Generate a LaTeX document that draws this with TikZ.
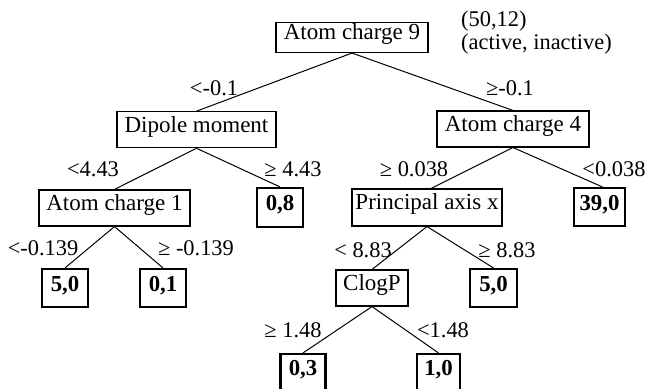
\documentclass[tikz,border=0pt]{standalone}
\usepackage{fontspec}
\setmainfont{Liberation Serif}
\begin{document}
\begin{tikzpicture}[x=1pt,y=-1pt,
  every node/.style={font=\fontsize{22.4}{26}\selectfont, inner sep=0pt},
  var/.style={draw, line width=1.1pt, font=\fontsize{23}{26}\selectfont, text height=0.68em, text depth=0.2em},
  leaf/.style={draw, line width=2.1pt, font=\fontsize{22.8}{26}\selectfont\bfseries, text height=0.68em, text depth=0.05em},
  lbl/.style={anchor=base},
  edge/.style={line width=1pt}]
\useasboundingbox (0,0) rectangle (647,388);
% decision nodes
\node[var, minimum width=152pt, minimum height=30pt] (root) at (352,37.5) {Atom charge 9};
\node[var, minimum width=159pt, minimum height=36pt] (dip) at (196.5,129.7) {Dipole moment};
\node[var, minimum width=151pt, minimum height=36pt] (ac1) at (114.5,208) {Atom charge 1};
\node[var, minimum width=152pt, minimum height=36pt] (ac4) at (513,129) {Atom charge 4};
\node[var, minimum width=150pt, minimum height=37pt] (pax) at (427,207.5) {Principal axis x};
\node[var, minimum width=72pt, minimum height=36pt] (clogp) at (372,288) {ClogP};
% leaves
\node[leaf, minimum width=46pt, minimum height=39pt] (l08) at (280,207.5) {0,8};
\node[leaf, minimum width=51pt, minimum height=38pt] (l390) at (599.5,207) {39,0};
\node[leaf, minimum width=46pt, minimum height=38pt] (l50a) at (65,288) {5,0};
\node[leaf, minimum width=46pt, minimum height=38pt] (l01) at (163,288) {0,1};
\node[leaf, minimum width=47pt, minimum height=38pt] (l50b) at (493.5,288) {5,0};
\node[leaf, minimum width=45pt, minimum height=37pt] (l03) at (303,372.5) {0,3};
\node[leaf, minimum width=43pt, minimum height=37pt] (l10) at (438.5,372.5) {1,0};
% note
\node[anchor=base west] (n1) at (461,27) {(50,12)};
\node[anchor=base west] (n2) at (461,49.5) {(active, inactive)};
% edges
\draw[edge] (root.south) -- (dip.north);
\draw[edge] (root.south) -- (ac4.north);
\draw[edge] (dip.south) -- (ac1.north);
\draw[edge] (dip.south) -- (l08.north);
\draw[edge] (ac1.south) -- (l50a.north);
\draw[edge] (ac1.south) -- (l01.north);
\draw[edge] (ac4.south) -- ([xshift=4pt]pax.north);
\draw[edge] (ac4.south) -- ([xshift=3pt]l390.north);
\draw[edge] (pax.south) -- (clogp.north);
\draw[edge] (pax.south) -- (l50b.north);
\draw[edge] (clogp.south) -- (l03.north);
\draw[edge] (clogp.south) -- (l10.north);
% labels
\node[lbl] (e1) at (214,95) {<-0.1};
\node[lbl] (e2) at (510,95) {≥-0.1};
\node[lbl] (e3) at (93,176.5) {<4.43};
\node[lbl] (e4) at (293,176.5) {≥ 4.43};
\node[lbl] (e5) at (414,176.5) {≥ 0.038};
\node[lbl] (e6) at (614,176.5) {<0.038};
\node[lbl] (e7) at (43,255) {<-0.139};
\node[lbl] (e8) at (196,255) {≥ -0.139};
\node[lbl] (e9) at (363,257.5) {< 8.83};
\node[lbl] (e10) at (507,257.5) {≥ 8.83};
\node[lbl] (e11) at (293,337) {≥ 1.48};
\node[lbl] (e12) at (443,337) {<1.48};
\end{tikzpicture}
\end{document}
